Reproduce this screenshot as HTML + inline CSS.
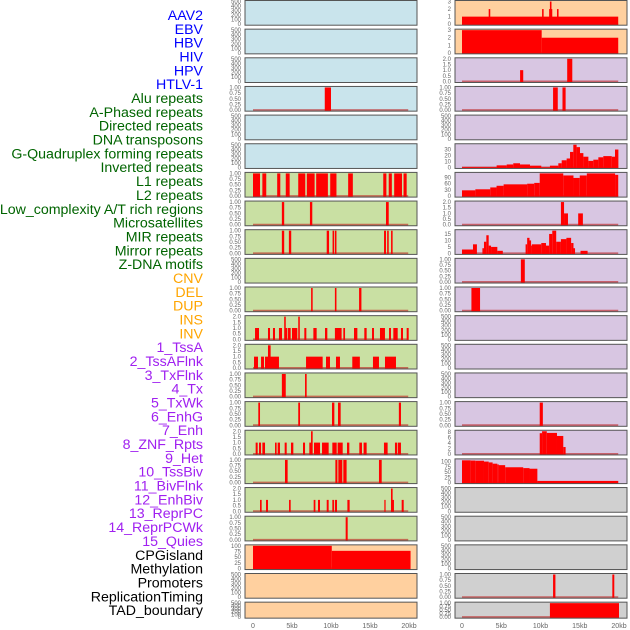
<!DOCTYPE html>
<html><head><meta charset="utf-8"><style>
body{margin:0;background:#fff;}
svg{display:block;font-family:"Liberation Sans",sans-serif;}
</style></head><body>
<svg id="chart" width="630" height="630" viewBox="0 0 630 630" xmlns="http://www.w3.org/2000/svg">
<g id="labels"></g>
<g id="panels"></g>
<g id="xaxes"></g>
</svg>
<script>
const trackNames = ["AAV2","EBV","HBV","HIV","HPV","HTLV-1","Alu repeats","A-Phased repeats","Directed repeats","DNA transposons","G-Quadruplex forming repeats","Inverted repeats","L1 repeats","L2 repeats","Low_complexity A/T rich regions","Microsatellites","MIR repeats","Mirror repeats","Z-DNA motifs","CNV","DEL","DUP","INS","INV","1_TssA","2_TssAFlnk","3_TxFlnk","4_Tx","5_TxWk","6_EnhG","7_Enh","8_ZNF_Rpts","9_Het","10_TssBiv","11_BivFlnk","12_EnhBiv","13_ReprPC","14_ReprPCWk","15_Quies","CPGisland","Methylation","Promoters","ReplicationTiming","TAD_boundary"];
const labelColors = ["#0000ff","#0000ff","#0000ff","#0000ff","#0000ff","#0000ff","#006400","#006400","#006400","#006400","#006400","#006400","#006400","#006400","#006400","#006400","#006400","#006400","#006400","#ffa500","#ffa500","#ffa500","#ffa500","#ffa500","#a020f0","#a020f0","#a020f0","#a020f0","#a020f0","#a020f0","#a020f0","#a020f0","#a020f0","#a020f0","#a020f0","#a020f0","#a020f0","#a020f0","#a020f0","#000","#000","#000","#000","#000"];
const panelBgs = ["#c9e4ec","#c9e4ec","#c9e4ec","#c9e4ec","#c9e4ec","#c9e4ec","#c9e0a3","#c9e0a3","#c9e0a3","#c9e0a3","#c9e0a3","#c9e0a3","#c9e0a3","#c9e0a3","#c9e0a3","#c9e0a3","#c9e0a3","#c9e0a3","#c9e0a3","#ffd09f","#ffd09f","#ffd09f","#ffd09f","#ffd09f","#d8c6e2","#d8c6e2","#d8c6e2","#d8c6e2","#d8c6e2","#d8c6e2","#d8c6e2","#d8c6e2","#d8c6e2","#d8c6e2","#d8c6e2","#d8c6e2","#d8c6e2","#d8c6e2","#d8c6e2","#d0d0d0","#d0d0d0","#d0d0d0","#d0d0d0","#d0d0d0"];
const E=[0,100,200,300,400,500], T1=[0,0.25,0.5,0.75,1], T2=[0,0.5,1,1.5,2], T3=[0,1,2,3];
const yTicks = [E,E,E,T1,E,E,T1,T1,T1,E,T1,T2,T2,T1,T1,T2,T1,T2,T1,[0,25,50,75,100],E,E,
  T3,T3,T2,T1,E,[0,10,20,30],[0,30,60,90],T2,[0,5,10,15],T1,T1,E,E,E,T1,[0,2,4,6,8],[0,25,50,75,100],E,E,E,T1,T1];
const yMax = [500,500,500,1,500,500,1,1,1,500,1,2,2,1,1,2,1,2,1,100,500,500,
  3,3,2,1,500,38,110,2,17.5,1,1,500,500,500,1,8.2,108,500,500,500,1,1];
const tickFmt = [0,0,0,2,0,0,2,2,2,0,2,1,1,2,2,1,2,1,2,0,0,0, 0,0,1,2,0,0,0,1,0,2,2,0,0,0,2,0,0,0,0,0,2,2];
// segments: [startKb, endKb, value]
const segments = [
 [],[],[],[[9.2,10.0,1]],[],[],
 [[0,0.9,1],[1.2,1.7,1],[3.1,3.5,1],[4.2,4.7,1],[5.8,6.7,1],[6.9,7.9,1],[8.1,9.6,1],[9.9,10.7,1],[12.2,12.8,1],[16.7,17.1,1],[17.4,17.8,1],[18.1,19.1,1],[19.3,19.7,1]],
 [[3.7,4.0,1],[7.3,7.6,1],[17.05,17.4,1]],
 [[3.7,4.0,1],[4.6,4.9,1],[9.45,9.75,1],[10.2,10.4,1],[10.5,10.7,1],[16.8,17.05,1],[17.2,17.4,1],[17.7,17.9,1]],
 [],
 [[7.45,7.65,1],[10.5,10.7,1],[13.6,13.9,1]],
 [[0.26,0.77,1],[1.92,2.18,1],[2.56,2.82,1],[3.33,3.72,1],[4.0,4.2,2],[4.1,4.4,1],[4.49,4.83,1],[5.0,5.68,1],[5.8,6.0,2],[6.58,6.84,1],[7.74,8.16,1],[9.23,9.53,1],[10.5,11.36,1],[11.58,11.8,1],[12.95,13.38,1],[14.27,14.57,1],[15.26,15.51,1],[16.28,16.92,1],[17.44,17.69,1],[17.99,18.55,1],[18.97,19.23,1],[19.7,19.96,1]],
 [[0.13,0.64,1],[1.03,1.41,1],[1.54,3.33,1],[1.92,2.26,2],[6.8,8.93,1],[9.36,9.87,1],[10.64,11.15,1],[12.73,13.7,1],[15.38,16.15,1],[16.92,18.33,1]],
 [[3.7,4.2,1],[6.67,6.88,1]],
 [[0.68,0.9,1],[5.8,6.03,1],[10.13,10.43,1],[10.9,11.24,1],[18.7,18.97,1]],
 [[0.34,0.6,1],[0.77,1.03,1],[1.2,1.54,1],[2.82,3.03,1],[3.16,3.46,1],[4.06,4.32,1],[4.87,5.17,1],[6.41,6.67,1],[7.22,7.61,1],[7.44,7.65,2],[7.82,8.59,1],[8.85,9.7,1],[10.17,10.73,1],[10.85,11.5,1],[12.05,12.35,1],[13.63,13.97,1],[14.18,14.57,1],[16.79,17.26,1],[18.2,18.5,1],[18.59,18.97,1]],
 [[4.1,4.44,1],[10.56,10.82,1],[10.94,11.45,1],[11.58,12.0,1],[16.15,16.5,1]],
 [[0.9,1.11,1],[1.67,1.92,1],[4.62,4.83,1],[7.78,8.0,1],[8.33,8.59,1],[9.45,9.7,1],[10.17,10.38,1],[10.5,10.77,1],[12.1,12.39,1],[16.84,17.0,1],[17.69,17.9,2],[17.86,18.07,1],[19.06,19.32,1]],
 [[11.88,12.14,1]],
 [[0,10.1,100],[10.1,20.2,78]],
 [],[],
 [[0,19.9,1],[3.4,3.6,2],[10.2,10.4,2],[11.1,11.5,2],[11.2,11.4,3],[12.1,12.3,2]],
 [[0,10.15,3],[10.15,19.9,2]],
 [[7.4,7.8,1],[13.4,14.05,2]],
 [[11.6,12.2,1],[12.8,13.2,1]],
 [],
 [[0,4.41,0.5],[4.41,5.69,3.5],[5.69,6.53,5],[6.53,7.39,7],[7.39,8.66,5],[8.66,10.1,3],[10.1,11.2,0.3],[11.2,12.27,3],[12.27,12.7,7],[12.7,13.33,12],[13.33,13.76,15],[13.76,14.18,26],[14.18,14.6,38],[14.6,15.03,34],[15.03,15.46,24],[15.46,16.1,18],[16.1,16.73,11],[16.73,17.37,13],[17.37,18.0,17],[18.0,19.07,19],[19.07,19.49,18],[19.49,19.92,30]],
 [[0,1.7,28],[1.7,3.6,33],[3.6,4.4,42],[4.4,5.3,50],[5.3,8.3,57],[8.3,9.2,60],[9.2,9.9,64],[9.9,12.9,110],[12.9,14.2,100],[14.2,15.0,88],[15.0,15.9,100],[15.9,19.5,110],[19.5,19.9,103]],
 [[12.6,13.0,2],[13.0,13.5,1],[14.8,15.4,1]],
 [[0,1.4,3],[1.4,1.9,7],[2.6,2.8,4],[2.8,3.1,9],[3.1,3.4,14],[3.4,3.7,6],[3.7,4.5,5],[4.5,5.2,2],[8.1,8.3,7],[8.3,8.6,12],[8.6,8.8,10],[8.8,8.9,6],[8.9,10.1,7],[10.1,10.7,8],[10.7,11.1,6],[11.1,11.5,15],[11.5,12.0,17.5],[12.0,12.6,9],[12.6,13.3,11],[13.3,13.9,12],[13.9,14.2,8],[14.2,14.4,4],[15.1,16.0,2]],
 [[7.5,8.0,1]],
 [[1.2,2.3,1]],
 [],[],[],
 [[9.9,10.3,1]],
 [[9.9,10.2,7.5],[10.2,10.8,8.2],[10.8,12.1,7.6],[12.1,12.9,6.5],[12.9,13.2,2.5]],
 [[0,1.1,106],[1.1,1.7,105],[1.7,2.8,104],[2.8,3.4,100],[3.4,3.9,96],[3.9,4.5,90],[4.5,4.7,86],[4.7,5.5,83],[5.5,7.8,73],[7.8,8.6,69],[8.6,9.6,66],[9.6,19.9,8]],
 [],[],[],
 [[11.6,11.9,1],[19.15,19.4,1]],
 [[11.2,20,1]]
];
const xTickKb = [0,5,10,15,20];
const xTickLabels = ["0","5kb","10kb","15kb","20kb"];

const NS="http://www.w3.org/2000/svg";
function mk(tag, attrs, parent){const e=document.createElementNS(NS,tag);for(const k in attrs)e.setAttribute(k,attrs[k]);if(parent)parent.appendChild(e);return e;}
function slug(s){return s.toLowerCase().replace(/[^a-z0-9]+/g,'-').replace(/^-|-$/g,'');}
const cols=[{x0:245,x1:417,zero:253,kbPx:7.8},{x0:455,x1:627,zero:462,kbPx:7.85}];
function xScale(c,kb){return cols[c].zero+kb*cols[c].kbPx;}

const labG=document.getElementById('labels');
trackNames.forEach((n,i)=>{
  const t=mk('text',{x:203,y:(15+i*13.84+5).toFixed(1),'text-anchor':'end','font-size':'14.2',fill:labelColors[i]},labG);
  
  
  t.textContent=n;
});

const pG=document.getElementById('panels');
trackNames.forEach((n,i)=>{
  const c=i<22?0:1, r=i%22;
  const top=0.5+r*28.65, h=(r===21)?16:24.7, bot=top+h;
  const g=mk('g',{},pG);
  
  
  const bg=mk('rect',{x:cols[c].x0,y:top,width:cols[c].x1-cols[c].x0,height:h,fill:panelBgs[i],stroke:'none'},g);
  
  
  const ym=yMax[i];
  const yS=v=>bot-1-(v/ym)*(h-2);
  const segs=segments[i];
  if(segs.length){
    const bl=mk('line',{x1:xScale(c,0),x2:xScale(c,19.9),y1:bot-1,y2:bot-1,stroke:'rgba(190,30,30,0.6)','stroke-width':2},g);
    
    
  }
  segs.forEach(s=>{
    const xa=xScale(c,s[0]), xb=xScale(c,s[1]);
    const y=Math.max(top,yS(s[2]));
    const b=mk('rect',{x:xa.toFixed(2),y:y.toFixed(2),width:Math.max(1.2,xb-xa).toFixed(2),height:(bot-y).toFixed(2),fill:'#ff0000'},g);
    
    
  });
  const br=mk('rect',{x:cols[c].x0,y:top,width:cols[c].x1-cols[c].x0,height:h,fill:'none',stroke:'#555','stroke-width':1},g);
  
  
  const ticks=yTicks[i];
  ticks.forEach(tv=>{
    const tt=mk('text',{x:cols[c].x0-4,y:(yS(tv)+2).toFixed(1),'text-anchor':'end','font-size':'6',fill:'#666'},g);
    
    
    tt.textContent=tv.toFixed(tickFmt[i]);
  });
});

const xG=document.getElementById('xaxes');
[0,1].forEach(c=>{
  xTickKb.forEach((kb,j)=>{
    const t=mk('text',{x:xScale(c,kb),y:628,'text-anchor':'middle','font-size':'7',fill:'#666'},xG);
    
    
    t.textContent=xTickLabels[j];
  });
});
</script>
</body></html>
